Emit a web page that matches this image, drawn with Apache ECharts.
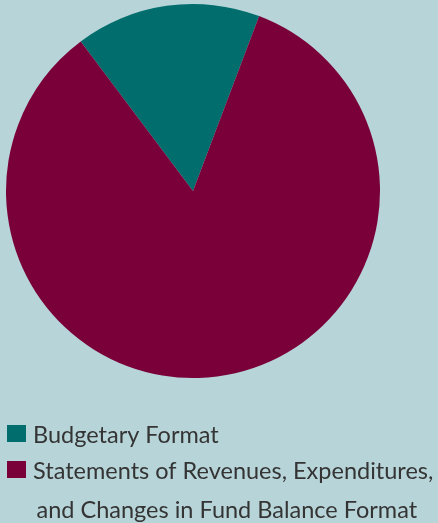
<!DOCTYPE html>
<html>
<head>
<meta charset="utf-8">
<style>
  html, body { margin: 0; padding: 0; background: #b7d4d8; }
  #chart { width: 438px; height: 523px; }
</style>
<script src="https://cdn.jsdelivr.net/npm/echarts@6/dist/echarts.min.js"></script>
</head>
<body>
<div id="chart"></div>
<script>
// Share of reports by presentation format
const categories = [
  'Budgetary Format',
  'Statements of Revenues, Expenditures, and Changes in Fund Balance Format'
];
const shares = [16, 84];
const colors = ['#016d6d', '#7a003a'];
// Legend text, wrapped by hand
const legendLines = [
  ['Budgetary Format'],
  ['Statements of Revenues, Expenditures,', 'and Changes in Fund Balance Format']
];

const chart = echarts.init(document.getElementById('chart'), null, { renderer: 'canvas' });

// Legend drawn as graphic elements so a wrapped entry keeps its swatch on the first line
const firstMiddle = 435;
const rowSteps = [0, 36, 75.5];   // offsets of each text line from the first
const legendGraphics = [];
let row = 0;
legendLines.forEach((lines, i) => {
  const mid = firstMiddle + rowSteps[row];
  legendGraphics.push({
    type: 'rect',
    left: 7, top: mid - 10,
    shape: { width: 19, height: 17 },
    style: { fill: colors[i] }
  });
  lines.forEach((txt, j) => {
    legendGraphics.push({
      type: 'text',
      x: j === 0 ? 33 : 36.5,
      y: firstMiddle + rowSteps[row + j],
      style: {
        text: txt,
        fill: '#343434',
        font: '23.5px Lato',
        verticalAlign: 'middle',
        align: 'left'
      }
    });
  });
  row += lines.length;
});

chart.setOption({
  backgroundColor: '#b7d4d8',
  animation: false,
  color: colors,
  graphic: legendGraphics,
  series: [{
    type: 'pie',
    center: [193, 191],
    radius: [0, 187],
    startAngle: 126.9,
    clockwise: true,
    label: { show: false },
    labelLine: { show: false },
    itemStyle: { borderWidth: 0 },
    emphasis: { disabled: true },
    data: categories.map((name, i) => ({ name, value: shares[i] }))
  }]
});
</script>
</body>
</html>
